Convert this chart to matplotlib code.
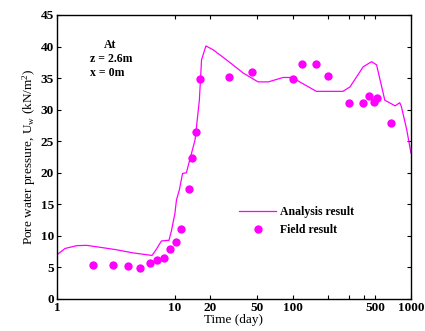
import numpy as np
import matplotlib
matplotlib.use("Agg")
import matplotlib.pyplot as plt
from matplotlib.ticker import FixedLocator, NullLocator, FixedFormatter

# analysis result (line)
t_ana = [1.0, 1.17, 1.47, 1.78, 2.31, 3.2, 4.43, 6.4, 6.97, 7.45, 7.7, 8.9, 9.36,
         10.0, 10.3, 10.9, 11.6, 12.5, 12.9, 14.8, 16.1, 16.8, 18.3, 21.0, 27.3,
         37.9, 50.6, 61.8, 82.5, 99.4, 114, 158, 265, 304, 394, 464, 511, 565,
         600, 735, 803, 829, 921, 1000]
u_ana = [7.0, 8.0, 8.45, 8.5, 8.2, 7.8, 7.3, 6.9, 7.9, 8.8, 9.2, 9.3, 10.9,
         13.6, 15.7, 17.3, 19.9, 20.0, 21.0, 25.2, 31.5, 37.9, 40.1, 39.5, 37.9,
         35.8, 34.4, 34.4, 35.1, 35.1, 34.4, 32.9, 32.9, 33.6, 36.8, 37.6, 37.1, 33.6,
         31.5, 30.6, 31.1, 30.5, 26.8, 23.1]

# field result (points)
t_fld = [2.03, 3.0, 4.02, 5.05, 6.14, 7.08, 8.1, 9.07, 10.2, 11.2, 13.2, 14.0,
         15.1, 16.4, 28.9, 45.2, 99.4, 119, 158, 198, 298, 394, 443, 489, 515, 673]
u_fld = [5.4, 5.4, 5.2, 4.9, 5.7, 6.2, 6.5, 8.0, 9.0, 11.1, 17.4, 22.4,
         26.4, 34.9, 35.1, 35.9, 34.9, 37.2, 37.2, 35.4, 31.1, 31.1, 32.1, 31.2, 31.9, 27.9]

plt.rcParams["font.family"] = "Liberation Serif"
plt.rcParams["font.weight"] = "bold"
plt.rcParams["mathtext.fontset"] = "custom"
plt.rcParams["mathtext.rm"] = "Liberation Serif:bold"
plt.rcParams["mathtext.it"] = "Liberation Serif:bold"

fig = plt.figure(figsize=(4.25, 3.31), dpi=100)
ax = fig.add_axes([0.134, 0.0967, 0.833, 0.858])

ax.plot(t_ana, u_ana, color="#ff00ff", lw=0.9, label="Analysis result")
ax.plot(t_fld, u_fld, "o", color="#ff00ff", ms=6, mec="none", label="Field result")

ax.set_xscale("log")
ax.set_xlim(1, 1000)
ax.set_ylim(0, 45)
ax.xaxis.set_major_locator(FixedLocator([1, 10, 20, 50, 100, 200, 300, 400, 500, 1000]))
ax.xaxis.set_major_formatter(FixedFormatter(["1", "10", "20", "50", "100", "", "", "", "500", "1000"]))
ax.xaxis.set_minor_locator(NullLocator())
ax.set_yticks(np.arange(0, 46, 5))
ax.tick_params(direction="in", top=True, right=True, labelsize=9.5, length=3, pad=2)
for s in ax.spines.values():
    s.set_linewidth(1.0)

ax.set_xlabel("Time (day)", fontsize=9.5, labelpad=0)
ax.set_ylabel("Pore water pressure, U$_\\mathregular{w}$ (kN/m$^\\mathregular{2}$)", fontsize=9.5, labelpad=2)

fig.text(110 / 425, 1 - 48 / 331, "At", fontsize=8.5, ha="center", va="baseline")
fig.text(90 / 425, 1 - 62 / 331, "z = 2.6m", fontsize=8.5, ha="left", va="baseline")
fig.text(90 / 425, 1 - 76 / 331, "x = 0m", fontsize=8.5, ha="left", va="baseline")

ax.legend(loc="upper left", bbox_to_anchor=(0.5, 0.345), frameon=False, fontsize=8.5,
          handlelength=3.2, handletextpad=0.3, labelspacing=0.55, borderaxespad=0)

fig.savefig("out.png", dpi=100)
